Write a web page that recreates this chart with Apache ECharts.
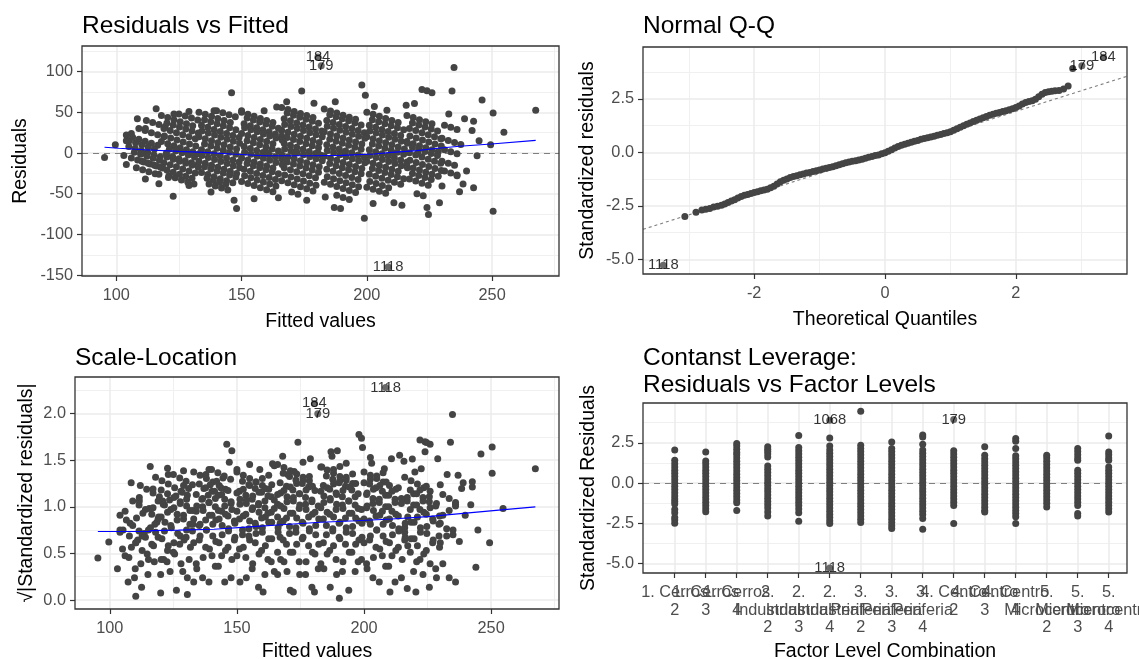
<!DOCTYPE html>
<html><head><meta charset="utf-8">
<script src="https://cdn.jsdelivr.net/npm/echarts@6/dist/echarts.min.js"></script>
<style>html,body{margin:0;padding:0;background:#fff}#c{width:1139px;height:659px}</style>
</head><body><div id="c"></div>
<script>
// ---------------- DATA ----------------
// Panel 1: Residuals vs Fitted  [fitted, residual]
const rvfStreaks = [
[104,22],[106.5,19.5],[109,17],[111.5,14.5],[114,12],[116.5,9.5],
[105,8],[107.5,5.5],[110,3],[112.5,0.5],[115,-2],[117.5,-4.5],
[106,-6],[108.5,-8.5],[111,-11],[113.5,-13.5],[116,-16],[118.5,-18.5],
[109,30],[111.5,27.5],[114,25],[116.5,22.5],[119,20],
[108,-18],[110.5,-20.5],[113,-23],[115.5,-25.5],
[112,40],[114.5,37.5],[117,35],[119.5,32.5],
[118,46],[120.5,43.5],[123,41],[125.5,38.5],[128,36],[130.5,33.5],
[119,30],[121.5,27.5],[124,25],[126.5,22.5],[129,20],[131.5,17.5],
[118,14],[120.5,11.5],[123,9],[125.5,6.5],[128,4],[130.5,1.5],[133,-1],
[120,-2],[122.5,-4.5],[125,-7],[127.5,-9.5],[130,-12],[132.5,-14.5],
[119,-12],[121.5,-14.5],[124,-17],[126.5,-19.5],[129,-22],[131.5,-24.5],
[121,-28],[123.5,-30.5],[126,-33],[128.5,-35.5],[131,-38],
[125,48],[127.5,45.5],[130,43],[132.5,40.5],
[133,50],[135.5,47.5],[138,45],[140.5,42.5],[143,40],[145.5,37.5],
[134,34],[136.5,31.5],[139,29],[141.5,26.5],[144,24],[146.5,21.5],[149,19],
[133,20],[135.5,17.5],[138,15],[140.5,12.5],[143,10],[145.5,7.5],[148,5],
[134,4],[136.5,1.5],[139,-1],[141.5,-3.5],[144,-6],[146.5,-8.5],[149,-11],
[133,-10],[135.5,-12.5],[138,-15],[140.5,-17.5],[143,-20],[145.5,-22.5],[148,-25],
[134,-24],[136.5,-26.5],[139,-29],[141.5,-31.5],[144,-34],[146.5,-36.5],
[137,-38],[139.5,-40.5],[142,-43],[144.5,-45.5],
[140,52],[142.5,49.5],[145,47],[147.5,44.5],
[150,50],[152.5,47.5],[155,45],[157.5,42.5],[160,40],[162.5,37.5],
[151,36],[153.5,33.5],[156,31],[158.5,28.5],[161,26],[163.5,23.5],[166,21],
[150,24],[152.5,21.5],[155,19],[157.5,16.5],[160,14],[162.5,11.5],
[151,8],[153.5,5.5],[156,3],[158.5,0.5],[161,-2],[163.5,-4.5],[166,-7],
[150,-6],[152.5,-8.5],[155,-11],[157.5,-13.5],[160,-16],[162.5,-18.5],
[151,-20],[153.5,-22.5],[156,-25],[158.5,-27.5],[161,-30],[163.5,-32.5],
[150,-35],[152.5,-37.5],[155,-40],[157.5,-42.5],[160,-45],[162.5,-47.5],
[166,56],[168.5,53.5],[171,51],[173.5,48.5],[176,46],[178.5,43.5],
[167,42],[169.5,39.5],[172,37],[174.5,34.5],[177,32],[179.5,29.5],[182,27],
[166,28],[168.5,25.5],[171,23],[173.5,20.5],[176,18],[178.5,15.5],[181,13],
[167,12],[169.5,9.5],[172,7],[174.5,4.5],[177,2],[179.5,-0.5],[182,-3],
[166,-2],[168.5,-4.5],[171,-7],[173.5,-9.5],[176,-12],[178.5,-14.5],[181,-17],
[167,-18],[169.5,-20.5],[172,-23],[174.5,-25.5],[177,-28],[179.5,-30.5],
[166,-34],[168.5,-36.5],[171,-39],[173.5,-41.5],[176,-44],[178.5,-46.5],
[170,-48],[172.5,-50.5],
[183,54],[185.5,51.5],[188,49],[190.5,46.5],[193,44],[195.5,41.5],
[184,40],[186.5,37.5],[189,35],[191.5,32.5],[194,30],[196.5,27.5],[199,25],
[183,26],[185.5,23.5],[188,21],[190.5,18.5],[193,16],[195.5,13.5],[198,11],
[184,10],[186.5,7.5],[189,5],[191.5,2.5],[194,0.3],[196.5,-2.5],[199,-5],
[183,-4],[185.5,-6.5],[188,-9],[190.5,-11.5],[193,-14],[195.5,-16.5],[198,-19],
[184,-20],[186.5,-22.5],[189,-25],[191.5,-27.5],[194,-30],[196.5,-32.5],
[183,-36],[185.5,-38.5],[188,-41],[190.5,-43.5],[193,-46],[195.5,-48.5],
[188,-52],[190.5,-54.5],[193,-57],
[200,50],[202.5,47.5],[205,45],[207.5,42.5],[210,40],[212.5,37.5],
[201,34],[203.5,31.5],[206,29],[208.5,26.5],[211,24],[213.5,21.5],
[200,20],[202.5,17.5],[205,15],[207.5,12.5],[210,10],[212.5,7.5],[215,5],
[201,4],[203.5,1.5],[206,-1],[208.5,-3.5],[211,-6],[213.5,-8.5],[216,-11],
[200,-10],[202.5,-12.5],[205,-15],[207.5,-17.5],[210,-20],[212.5,-22.5],
[201,-26],[203.5,-28.5],[206,-31],[208.5,-33.5],[211,-36],[213.5,-38.5],
[200,-42],[202.5,-44.5],[205,-47],[207.5,-49.5],
[216,46],[218.5,43.5],[221,41],[223.5,38.5],[226,36],
[217,30],[219.5,27.5],[222,25],[224.5,22.5],[227,20],[229.5,17.5],
[216,14],[218.5,11.5],[221,9],[223.5,6.5],[226,4],[228.5,1.5],
[217,0.4],[219.5,-2.5],[222,-5],[224.5,-7.5],[227,-10],[229.5,-12.5],
[216,-16],[218.5,-18.5],[221,-21],[223.5,-23.5],[226,-26],[228.5,-28.5],
[217,-32],[219.5,-34.5],[222,-37],[224.5,-39.5],
[220,-50],[222.5,-52.5],
[231,34],[233.5,31.5],[236,29],
[230,18],[232.5,15.5],[235,13],[237.5,10.5],
[231,4],[233.5,1.5],[236,-1],
[230,-10],[232.5,-12.5],[235,-15],
[231,-22],[233.5,-24.5],[236,-27]
];
const rvfStreaks2 = [
[105.2,15],[107.7,12.5],[110.2,10],[112.7,7.5],[115.2,5],
[107.2,1],[109.7,-1.5],[112.2,-4],[114.7,-6.5],[117.2,-9],
[110.2,-10],[112.7,-12.5],[115.2,-15],[117.7,-17.5],
[120.2,37],[122.7,34.5],[125.2,32],[127.7,29.5],[130.2,27],[132.7,24.5],
[119.2,21],[121.7,18.5],[124.2,16],[126.7,13.5],[129.2,11],[131.7,8.5],
[121.2,5],[123.7,2.5],[126.2,0.3],[128.7,-2.5],[131.2,-5],
[120.2,-5],[122.7,-7.5],[125.2,-10],[127.7,-12.5],[130.2,-15],[132.7,-17.5],
[120.2,-21],[122.7,-23.5],[125.2,-26],[127.7,-28.5],[130.2,-31],
[135.2,41],[137.7,38.5],[140.2,36],[142.7,33.5],[145.2,31],[147.7,28.5],
[134.2,27],[136.7,24.5],[139.2,22],[141.7,19.5],[144.2,17],[146.7,14.5],[149.2,12],
[135.2,11],[137.7,8.5],[140.2,6],[142.7,3.5],[145.2,1],[147.7,-1.5],
[134.2,-3],[136.7,-5.5],[139.2,-8],[141.7,-10.5],[144.2,-13],[146.7,-15.5],[149.2,-18],
[135.2,-17],[137.7,-19.5],[140.2,-22],[142.7,-24.5],[145.2,-27],[147.7,-29.5],
[136.2,-31],[138.7,-33.5],[141.2,-36],[143.7,-38.5],
[152.2,43],[154.7,40.5],[157.2,38],[159.7,35.5],[162.2,33],[164.7,30.5],
[151.2,31],[153.7,28.5],[156.2,26],[158.7,23.5],[161.2,21],[163.7,18.5],[166.2,16],
[152.2,15],[154.7,12.5],[157.2,10],[159.7,7.5],[162.2,5],[164.7,2.5],
[151.2,1],[153.7,-1.5],[156.2,-4],[158.7,-6.5],[161.2,-9],[163.7,-11.5],[166.2,-14],
[152.2,-13],[154.7,-15.5],[157.2,-18],[159.7,-20.5],[162.2,-23],[164.7,-25.5],
[151.2,-28],[153.7,-30.5],[156.2,-33],[158.7,-35.5],[161.2,-38],[163.7,-40.5],
[168.2,49],[170.7,46.5],[173.2,44],[175.7,41.5],[178.2,39],[180.7,36.5],
[167.2,35],[169.7,32.5],[172.2,30],[174.7,27.5],[177.2,25],[179.7,22.5],[182.2,20],
[168.2,19],[170.7,16.5],[173.2,14],[175.7,11.5],[178.2,9],[180.7,6.5],
[167.2,5],[169.7,2.5],[172.2,0.2],[174.7,-2],[177.2,-4.5],[179.7,-7],[182.2,-9.5],
[168.2,-11],[170.7,-13.5],[173.2,-16],[175.7,-18.5],[178.2,-21],[180.7,-23.5],
[167.2,-27],[169.7,-29.5],[172.2,-32],[174.7,-34.5],[177.2,-37],[179.7,-39.5],
[185.2,47],[187.7,44.5],[190.2,42],[192.7,39.5],[195.2,37],[197.7,34.5],
[184.2,33],[186.7,30.5],[189.2,28],[191.7,25.5],[194.2,23],[196.7,20.5],[199.2,18],
[185.2,17],[187.7,14.5],[190.2,12],[192.7,9.5],[195.2,7],[197.7,4.5],
[184.2,3],[186.7,0.5],[189.2,-2],[191.7,-4.5],[194.2,-7],[196.7,-9.5],[199.2,-12],
[185.2,-13],[187.7,-15.5],[190.2,-18],[192.7,-20.5],[195.2,-23],[197.7,-25.5],
[184.2,-29],[186.7,-31.5],[189.2,-34],[191.7,-36.5],[194.2,-39],[196.7,-41.5],
[202.2,41],[204.7,38.5],[207.2,36],[209.7,33.5],[212.2,31],[214.7,28.5],
[201.2,27],[203.7,24.5],[206.2,22],[208.7,19.5],[211.2,17],[213.7,14.5],[216.2,12],
[202.2,11],[204.7,8.5],[207.2,6],[209.7,3.5],[212.2,1],[214.7,-1.5],
[201.2,-3],[203.7,-5.5],[206.2,-8],[208.7,-10.5],[211.2,-13],[213.7,-15.5],[216.2,-18],
[202.2,-19],[204.7,-21.5],[207.2,-24],[209.7,-26.5],[212.2,-29],[214.7,-31.5],
[201.2,-35],[203.7,-37.5],[206.2,-40],[208.7,-42.5],
[218.2,37],[220.7,34.5],[223.2,32],[225.7,29.5],[228.2,27],
[217.2,21],[219.7,18.5],[222.2,16],[224.7,13.5],[227.2,11],[229.7,8.5],
[218.2,7],[220.7,4.5],[223.2,2],[225.7,-0.5],[228.2,-3],
[217.2,-9],[219.7,-11.5],[222.2,-14],[224.7,-16.5],[227.2,-19],[229.7,-21.5],
[218.2,-25],[220.7,-27.5],[223.2,-30],[225.7,-32.5]
];
const rvfOutliers = [[95.3,-5.4],[99.6,10.3],[103,-3],[104,-14],[104,15],[106,24],[108.4,42],[111.6,-32],[111.6,30],[115.9,54.5],[117,-26],[117,-37.6],[120.8,-30],[122.7,-53],[123,48],[129,51],[129,-40],[137.8,-48],[139,52],[146,74],[147,-58],[148,-68],[150,52],[155,-56],[159,52],[164,56.6],[164.7,-55],[168,63],[174,76],[176,-58],[178.9,61],[183.4,-54],[187,-67],[187.4,63],[189.5,-68],[198,83.5],[199,-80],[199.4,71],[202.5,-62],[203,57],[208,52.5],[210.8,-61],[214,-64],[215.7,58.7],[219,60.7],[222,78],[224,76.4],[226,74],[224,-67],[224.6,-75.6],[229,-61],[230,-40.5],[232.7,48],[234,76],[234.8,105],[236,-28],[237,-47.5],[238.4,-38],[239,42],[239.8,-22],[242,27.7],[242.6,39],[242.6,-42.6],[244,-3.3],[244.8,15],[246,65],[249.4,10],[250.4,49],[250.4,-71.5],[254.7,25.6],[267.4,52.5],[110.2,0.05],[120,0.15],[130.5,-0.1],[160.3,0.2],[171,0.3],[180.5,0.2],[190.3,0.01],[210.2,0.2],[220.4,-0.2]];
const rvfLabeled = [[180.5,118,'184'],[181.8,107,'179'],[208.5,-140,'1118']];
const rvfLoessX = [95.3,101,111,125,135,146,159,167.6,179,190,203,210,220,228.5,237,249.7,267.4];
const rvfLoessY = [7,5.8,4.1,2,0.8,-1.2,-3.3,-3.4,-3.3,-2.9,-1.2,0.8,2.9,5.8,8.3,11,15.5];

// Panel 2: Normal Q-Q
const qqTheo = [-3.06,-2.89,-2.80,-2.74,-2.68,-2.62,-2.56,-2.50,-2.45,-2.40,-2.35,-2.30,-2.25,-2.20,-2.15,-2.10,-2.05,-2.00,-1.95,-1.90,-1.85,-1.80,-1.75,-1.70,-1.65,-1.60,-1.55,-1.50,-1.45,-1.40,-1.35,-1.30,-1.25,-1.20,-1.15,-1.10,-1.05,-1.00,-0.95,-0.90,-0.85,-0.80,-0.75,-0.70,-0.65,-0.60,-0.55,-0.50,-0.45,-0.40,-0.35,-0.30,-0.25,-0.20,-0.15,-0.10,-0.05,0.00,0.05,0.10,0.15,0.20,0.25,0.30,0.35,0.40,0.45,0.50,0.55,0.60,0.65,0.70,0.75,0.80,0.85,0.90,0.95,1.00,1.05,1.10,1.15,1.20,1.25,1.30,1.35,1.40,1.45,1.50,1.55,1.60,1.65,1.70,1.75,1.80,1.85,1.90,1.95,2.00,2.05,2.10,2.15,2.20,2.25,2.30,2.35,2.40,2.45,2.50,2.55,2.60,2.66,2.73,2.80,2.87];
const qqStd = [-3.00,-2.80,-2.70,-2.66,-2.62,-2.56,-2.52,-2.47,-2.42,-2.34,-2.28,-2.22,-2.14,-2.06,-2.01,-1.97,-1.92,-1.88,-1.84,-1.80,-1.76,-1.72,-1.66,-1.58,-1.48,-1.38,-1.30,-1.24,-1.18,-1.13,-1.09,-1.05,-1.01,-0.97,-0.94,-0.90,-0.86,-0.82,-0.78,-0.74,-0.71,-0.67,-0.63,-0.58,-0.53,-0.49,-0.45,-0.42,-0.39,-0.36,-0.32,-0.27,-0.23,-0.19,-0.15,-0.12,-0.07,-0.02,0.05,0.12,0.20,0.28,0.33,0.38,0.43,0.47,0.52,0.56,0.61,0.65,0.69,0.72,0.76,0.80,0.84,0.88,0.92,0.97,1.03,1.10,1.17,1.25,1.32,1.38,1.44,1.50,1.56,1.62,1.68,1.74,1.78,1.83,1.87,1.91,1.95,1.99,2.04,2.10,2.17,2.26,2.33,2.38,2.42,2.48,2.60,2.72,2.80,2.84,2.86,2.88,2.90,2.96,3.10,3.92];
const qqLabeled = [[-3.39,-5.28,'1118'],[3.01,4.05,'179'],[3.34,4.45,'184']];
const qqLineX = [-3.7,3.7];
const qqLineY = [-3.60,3.56];

// Panel 3: Scale-Location  [fitted, sqrt|std resid|]
const slStreaks = [
[104,0.911],[106.5,0.858],[109,0.801],[111.5,0.740],[114,0.673],[116.5,0.599],
[105,0.549],[107.5,0.456],[110,0.336],[112.5,0.137],[115,0.275],[117.5,0.412],
[106,0.476],[108.5,0.566],[111,0.644],[113.5,0.714],[116,0.777],[118.5,0.836],
[109,1.064],[111.5,1.019],[114,0.971],[116.5,0.921],[119,0.869],
[108,0.824],[110.5,0.880],[113,0.932],[115.5,0.981],
[112,1.229],[114.5,1.190],[117,1.149],[119.5,1.107],
[118,1.318],[120.5,1.281],[123,1.244],[125.5,1.205],[128,1.166],[130.5,1.124],
[119,1.064],[121.5,1.019],[124,0.971],[126.5,0.921],[129,0.869],[131.5,0.813],
[118,0.727],[120.5,0.659],[123,0.583],[125.5,0.495],[128,0.389],[130.5,0.238],[133,0.194],
[120,0.275],[122.5,0.412],[125,0.514],[127.5,0.599],[130,0.673],[132.5,0.740],
[119,0.673],[121.5,0.740],[124,0.801],[126.5,0.858],[129,0.911],[131.5,0.962],
[121,1.028],[123.5,1.073],[126,1.116],[128.5,1.157],[131,1.197],
[125,1.346],[127.5,1.310],[130,1.274],[132.5,1.236],
[133,1.374],[135.5,1.339],[138,1.303],[140.5,1.266],[143,1.229],[145.5,1.190],
[134,1.133],[136.5,1.090],[139,1.046],[141.5,1.0],[144,0.952],[146.5,0.901],[149,0.847],
[133,0.869],[135.5,0.813],[138,0.752],[140.5,0.687],[143,0.614],[145.5,0.532],[148,0.434],
[134,0.389],[136.5,0.238],[139,0.194],[141.5,0.363],[144,0.476],[146.5,0.566],[149,0.644],
[133,0.614],[135.5,0.687],[138,0.752],[140.5,0.813],[143,0.869],[145.5,0.921],[148,0.971],
[134,0.952],[136.5,1.0],[139,1.046],[141.5,1.090],[144,1.133],[146.5,1.174],
[137,1.197],[139.5,1.236],[142,1.274],[144.5,1.310],
[140,1.401],[142.5,1.367],[145,1.332],[147.5,1.296],
[150,1.374],[152.5,1.339],[155,1.303],[157.5,1.266],[160,1.229],[162.5,1.190],
[151,1.166],[153.5,1.124],[156,1.082],[158.5,1.037],[161,0.991],[163.5,0.942],[166,0.890],
[150,0.952],[152.5,0.901],[155,0.847],[157.5,0.789],[160,0.727],[162.5,0.659],
[151,0.549],[153.5,0.456],[156,0.336],[158.5,0.137],[161,0.275],[163.5,0.412],[166,0.514],
[150,0.476],[152.5,0.566],[155,0.644],[157.5,0.714],[160,0.777],[162.5,0.836],
[151,0.869],[153.5,0.921],[156,0.971],[158.5,1.019],[161,1.064],[163.5,1.107],
[150,1.149],[152.5,1.190],[155,1.229],[157.5,1.266],[160,1.303],[162.5,1.339],
[166,1.454],[168.5,1.421],[171,1.387],[173.5,1.353],[176,1.318],[178.5,1.281],
[167,1.259],[169.5,1.221],[172,1.182],[174.5,1.141],[177,1.099],[179.5,1.055],[182,1.009],
[166,1.028],[168.5,0.981],[171,0.932],[173.5,0.880],[176,0.824],[178.5,0.765],[181,0.700],
[167,0.673],[169.5,0.599],[172,0.514],[174.5,0.412],[177,0.275],[179.5,0.137],[182,0.336],
[166,0.275],[168.5,0.412],[171,0.514],[173.5,0.599],[176,0.673],[178.5,0.740],[181,0.801],
[167,0.824],[169.5,0.880],[172,0.932],[174.5,0.981],[177,1.028],[179.5,1.073],
[166,1.133],[168.5,1.174],[171,1.213],[173.5,1.251],[176,1.289],[178.5,1.325],
[170,1.346],[172.5,1.380],
[183,1.427],[185.5,1.394],[188,1.360],[190.5,1.325],[193,1.289],[195.5,1.251],
[184,1.229],[186.5,1.190],[189,1.149],[191.5,1.107],[194,1.064],[196.5,1.019],[199,0.971],
[183,0.991],[185.5,0.942],[188,0.890],[190.5,0.836],[193,0.777],[195.5,0.714],[198,0.644],
[184,0.614],[186.5,0.532],[189,0.434],[191.5,0.307],[194,0.106],[196.5,0.307],[199,0.434],
[183,0.389],[185.5,0.495],[188,0.583],[190.5,0.659],[193,0.727],[195.5,0.789],[198,0.847],
[184,0.869],[186.5,0.921],[189,0.971],[191.5,1.019],[194,1.064],[196.5,1.107],
[183,1.166],[185.5,1.205],[188,1.244],[190.5,1.281],[193,1.318],[195.5,1.353],
[188,1.401],[190.5,1.434],[193,1.467],
[200,1.374],[202.5,1.339],[205,1.303],[207.5,1.266],[210,1.229],[212.5,1.190],
[201,1.133],[203.5,1.090],[206,1.046],[208.5,1.0],[211,0.952],[213.5,0.901],
[200,0.869],[202.5,0.813],[205,0.752],[207.5,0.687],[210,0.614],[212.5,0.532],[215,0.434],
[201,0.389],[203.5,0.238],[206,0.194],[208.5,0.363],[211,0.476],[213.5,0.566],[216,0.644],
[200,0.614],[202.5,0.687],[205,0.752],[207.5,0.813],[210,0.869],[212.5,0.921],
[201,0.991],[203.5,1.037],[206,1.082],[208.5,1.124],[211,1.166],[213.5,1.205],
[200,1.259],[202.5,1.296],[205,1.332],[207.5,1.367],
[216,1.318],[218.5,1.281],[221,1.244],[223.5,1.205],[226,1.166],
[217,1.064],[219.5,1.019],[222,0.971],[224.5,0.921],[227,0.869],[229.5,0.813],
[216,0.727],[218.5,0.659],[221,0.583],[223.5,0.495],[226,0.389],[228.5,0.238],
[217,0.123],[219.5,0.307],[222,0.434],[224.5,0.532],[227,0.614],[229.5,0.687],
[216,0.777],[218.5,0.836],[221,0.890],[223.5,0.942],[226,0.991],[228.5,1.037],
[217,1.099],[219.5,1.141],[222,1.182],[224.5,1.221],
[220,1.374],[222.5,1.408],
[231,1.133],[233.5,1.090],[236,1.046],
[230,0.824],[232.5,0.765],[235,0.700],[237.5,0.629],
[231,0.389],[233.5,0.238],[236,0.194],
[230,0.614],[232.5,0.687],[235,0.752],
[231,0.911],[233.5,0.962],[236,1.009]
];
const slStreaks2 = [
[105.2,0.752],[107.7,0.687],[110.2,0.614],[112.7,0.532],[115.2,0.434],
[107.2,0.194],[109.7,0.238],[112.2,0.389],[114.7,0.495],[117.2,0.583],
[110.2,0.614],[112.7,0.687],[115.2,0.752],[117.7,0.813],
[120.2,1.182],[122.7,1.141],[125.2,1.099],[127.7,1.055],[130.2,1.009],[132.7,0.962],
[119.2,0.890],[121.7,0.836],[124.2,0.777],[126.7,0.714],[129.2,0.644],[131.7,0.566],
[121.2,0.434],[123.7,0.307],[126.2,0.106],[128.7,0.307],[131.2,0.434],
[120.2,0.434],[122.7,0.532],[125.2,0.614],[127.7,0.687],[130.2,0.752],[132.7,0.813],
[120.2,0.890],[122.7,0.942],[125.2,0.991],[127.7,1.037],[130.2,1.082],
[135.2,1.244],[137.7,1.205],[140.2,1.166],[142.7,1.124],[145.2,1.082],[147.7,1.037],
[134.2,1.009],[136.7,0.962],[139.2,0.911],[141.7,0.858],[144.2,0.801],[146.7,0.740],[149.2,0.673],
[135.2,0.644],[137.7,0.566],[140.2,0.476],[142.7,0.363],[145.2,0.194],[147.7,0.238],
[134.2,0.336],[136.7,0.456],[139.2,0.549],[141.7,0.629],[144.2,0.700],[146.7,0.765],[149.2,0.824],
[135.2,0.801],[137.7,0.858],[140.2,0.911],[142.7,0.962],[145.2,1.009],[147.7,1.055],
[136.2,1.082],[138.7,1.124],[141.2,1.166],[143.7,1.205],
[152.2,1.274],[154.7,1.236],[157.2,1.197],[159.7,1.157],[162.2,1.116],[164.7,1.073],
[151.2,1.082],[153.7,1.037],[156.2,0.991],[158.7,0.942],[161.2,0.890],[163.7,0.836],[166.2,0.777],
[152.2,0.752],[154.7,0.687],[157.2,0.614],[159.7,0.532],[162.2,0.434],[164.7,0.307],
[151.2,0.194],[153.7,0.238],[156.2,0.389],[158.7,0.495],[161.2,0.583],[163.7,0.659],[166.2,0.727],
[152.2,0.700],[154.7,0.765],[157.2,0.824],[159.7,0.880],[162.2,0.932],[164.7,0.981],
[151.2,1.028],[153.7,1.073],[156.2,1.116],[158.7,1.157],[161.2,1.197],[163.7,1.236],
[168.2,1.360],[170.7,1.325],[173.2,1.289],[175.7,1.251],[178.2,1.213],[180.7,1.174],
[167.2,1.149],[169.7,1.107],[172.2,1.064],[174.7,1.019],[177.2,0.971],[179.7,0.921],[182.2,0.869],
[168.2,0.847],[170.7,0.789],[173.2,0.727],[175.7,0.659],[178.2,0.583],[180.7,0.495],
[167.2,0.434],[169.7,0.307],[172.2,0.087],[174.7,0.275],[177.2,0.412],[179.7,0.514],[182.2,0.599],
[168.2,0.644],[170.7,0.714],[173.2,0.777],[175.7,0.836],[178.2,0.890],[180.7,0.942],
[167.2,1.009],[169.7,1.055],[172.2,1.099],[174.7,1.141],[177.2,1.182],[179.7,1.221],
[185.2,1.332],[187.7,1.296],[190.2,1.259],[192.7,1.221],[195.2,1.182],[197.7,1.141],
[184.2,1.116],[186.7,1.073],[189.2,1.028],[191.7,0.981],[194.2,0.932],[196.7,0.880],[199.2,0.824],
[185.2,0.801],[187.7,0.740],[190.2,0.673],[192.7,0.599],[195.2,0.514],[197.7,0.412],
[184.2,0.336],[186.7,0.137],[189.2,0.275],[191.7,0.412],[194.2,0.514],[196.7,0.599],[199.2,0.673],
[185.2,0.700],[187.7,0.765],[190.2,0.824],[192.7,0.880],[195.2,0.932],[197.7,0.981],
[184.2,1.046],[186.7,1.090],[189.2,1.133],[191.7,1.174],[194.2,1.213],[196.7,1.251],
[202.2,1.244],[204.7,1.205],[207.2,1.166],[209.7,1.124],[212.2,1.082],[214.7,1.037],
[201.2,1.009],[203.7,0.962],[206.2,0.911],[208.7,0.858],[211.2,0.801],[213.7,0.740],[216.2,0.673],
[202.2,0.644],[204.7,0.566],[207.2,0.476],[209.7,0.363],[212.2,0.194],[214.7,0.238],
[201.2,0.336],[203.7,0.456],[206.2,0.549],[208.7,0.629],[211.2,0.700],[213.7,0.765],[216.2,0.824],
[202.2,0.847],[204.7,0.901],[207.2,0.952],[209.7,1.0],[212.2,1.046],[214.7,1.090],
[201.2,1.149],[203.7,1.190],[206.2,1.229],[208.7,1.266],
[218.2,1.182],[220.7,1.141],[223.2,1.099],[225.7,1.055],[228.2,1.009],
[217.2,0.890],[219.7,0.836],[222.2,0.777],[224.7,0.714],[227.2,0.644],[229.7,0.566],
[218.2,0.514],[220.7,0.412],[223.2,0.275],[225.7,0.137],[228.2,0.336],
[217.2,0.583],[219.7,0.659],[222.2,0.727],[224.7,0.789],[227.2,0.847],[229.7,0.901],
[218.2,0.971],[220.7,1.019],[223.2,1.064],[225.7,1.107]
];
const slOutliers = [[95.3,0.451],[99.6,0.623],[103,0.336],[104,0.727],[104,0.752],[106,0.952],[108.4,1.259],[111.6,1.099],[111.6,1.064],[115.9,1.434],[117,0.991],[117,1.191],[120.8,1.064],[122.7,1.414],[123,1.346],[129,1.387],[129,1.229],[137.8,1.346],[139,1.401],[146,1.671],[147,1.479],[148,1.602],[150,1.401],[155,1.454],[159,1.401],[164,1.461],[164.7,1.441],[168,1.542],[174,1.694],[176,1.479],[178.9,1.517],[183.4,1.427],[187,1.590],[187.4,1.542],[189.5,1.602],[198,1.775],[199,1.737],[199.4,1.637],[202.5,1.530],[203,1.467],[208,1.408],[210.8,1.517],[214,1.554],[215.7,1.488],[219,1.514],[222,1.716],[224,1.698],[226,1.671],[224,1.590],[224.6,1.689],[229,1.517],[230,1.236],[232.7,1.346],[234,1.694],[234.8,1.991],[236,1.028],[237,1.339],[238.4,1.197],[239,1.259],[239.8,0.911],[242,1.022],[242.6,1.213],[242.6,1.268],[244,0.353],[244.8,0.752],[246,1.566],[249.4,0.614],[250.4,1.360],[250.4,1.643],[254.7,0.983],[267.4,1.408],[110.2,0.04],[120,0.075],[130.5,0.06],[160.3,0.087],[171,0.106],[180.5,0.087],[190.3,0.02],[210.2,0.087],[220.4,0.087]];
const slLabeled = [[180.5,2.11,'184'],[181.8,2.0,'179'],[208.5,2.28,'1118']];
const slLoessX = [95.3,105,115.5,116.5,127,141,155,169,183,197,211,225,239,253,267.4];
const slLoessY = [0.735,0.735,0.737,0.745,0.75,0.76,0.785,0.81,0.835,0.85,0.87,0.895,0.93,0.965,1.0];

// Panel 4: Constant leverage, residuals by factor level combination
const flLabels = ['1. Cerros\n2','1. Cerros\n3','1. Cerros\n4','2.\nIndustrial\n2','2.\nIndustrial\n3','2.\nIndustrial\n4','3.\nPeriferia\n2','3.\nPeriferia\n3','3.\nPeriferia\n4','4. Centro\n2','4. Centro\n3','4. Centro\n4','5.\nMicrocentro\n2','5.\nMicrocentro\n3','5.\nMicrocentro\n4'];
const flStdRes = [
[2.05,1.41,1.2,1.0,0.8,0.6,0.4,0.2,0,-0.2,-0.4,-0.6,-0.8,-1.0,-1.15,-1.3,-1.65,-1.85,-2.15,-2.3,-2.5],
[1.93,1.37,1.2,1.0,0.8,0.6,0.4,0.2,0,-0.2,-0.4,-0.6,-0.8,-1.0,-1.2,-1.4,-1.6,-1.78],
[2.45,2.3,2.1,1.9,1.75,1.55,1.35,1.15,0.95,0.75,0.55,0.35,0.15,-0.05,-0.25,-0.45,-0.65,-0.85,-1.05,-1.22,-1.7],
[2.25,2.1,1.95,1.8,1.62,1.05,0.85,0.65,0.45,0.25,0.05,-0.15,-0.35,-0.55,-0.75,-0.95,-1.15,-1.35,-1.55,-1.8,-2.05],
[2.95,2.2,2.0,1.8,1.6,1.4,1.2,1.0,0.8,0.6,0.4,0.2,0,-0.2,-0.4,-0.6,-0.8,-1.0,-1.2,-1.4,-1.62,-1.85,-2.38],
[2.8,2.3,2.05,1.85,1.65,1.45,1.25,1.05,0.85,0.65,0.45,0.25,0.05,-0.15,-0.35,-0.55,-0.75,-0.95,-1.15,-1.35,-1.55,-1.75,-1.95,-2.15,-2.35,-2.52],
[4.45,2.35,2.15,1.95,1.75,1.55,1.35,1.15,0.95,0.75,0.55,0.35,0.15,-0.05,-0.25,-0.45,-0.65,-0.85,-1.05,-1.25,-1.45,-1.65,-1.85,-2.05,-2.25,-2.45],
[2.55,2.15,1.95,1.75,1.55,1.35,1.15,0.95,0.75,0.55,0.35,0.15,-0.05,-0.25,-0.45,-0.65,-0.85,-1.05,-1.25,-1.45,-1.65,-1.85,-2.05,-2.25,-2.45,-2.65,-2.82],
[2.98,2.86,2.4,2.05,1.85,1.65,1.45,1.25,1.05,0.85,0.65,0.45,0.25,0.05,-0.15,-0.35,-0.55,-0.75,-0.95,-1.15,-1.35,-1.55,-1.75,-1.95,-2.2,-2.88],
[2.0,1.8,1.6,1.4,1.2,1.0,0.8,0.6,0.4,0.2,0,-0.2,-0.4,-0.6,-0.8,-1.0,-1.2,-1.4,-2.52],
[2.25,1.72,1.5,1.3,1.1,0.9,0.7,0.5,0.3,0.1,-0.1,-0.3,-0.5,-0.7,-0.9,-1.1,-1.3,-1.5,-1.7,-1.8],
[2.76,2.6,2.14,1.7,1.5,1.3,1.1,0.9,0.7,0.5,0.3,0.1,-0.1,-0.3,-0.5,-0.7,-0.9,-1.1,-1.3,-1.5,-1.7,-1.9,-2.1,-2.52],
[1.72,1.55,1.35,1.15,0.95,0.75,0.55,0.35,0.15,-0.05,-0.25,-0.45,-0.65,-0.85,-1.05,-1.25,-1.49],
[2.14,1.95,1.75,1.55,1.41,0.79,0.6,0.4,0.2,0,-0.2,-0.4,-0.6,-0.8,-1.0,-1.2,-1.39,-1.9,-2.05],
[2.92,1.93,1.75,1.55,1.41,0.99,0.8,0.6,0.4,0.2,0,-0.2,-0.4,-0.6,-0.8,-1.0,-1.2,-1.4,-1.6,-1.8]
];
const flLabeled = [[6,3.9,'1068'],[10,3.94,'179'],[6,-5.28,'1118']];

// Tick values
const fitTicks = [100,150,200,250];
const fitMinor = [125,175,225,275];
const rvfYTicks = [-150,-100,-50,0,50,100];
const rvfYMinor = [-125,-75,-25,25,75,125];
const qqXTicks = [-2,0,2];
const qqXMinor = [-3,-1,1,3];
const stdYTicks = [-5,-2.5,0,2.5];
const stdYMinor = [-3.75,-1.25,1.25,3.75];
const slYTicks = [0,0.5,1,1.5,2];
const slYMinor = [0.25,0.75,1.25,1.75,2.25];
const flXTicks = [1,2,3,4,5,6,7,8,9,10,11,12,13,14,15];

// ---------------- LAYOUT / STYLE ----------------
const FONT = "'Liberation Sans', Arial, Helvetica, sans-serif";
const PT = 7;
const grids = [
  {left:82, top:46, width:477, height:230},
  {left:643, top:47, width:484, height:227},
  {left:75, top:377, width:484, height:232},
  {left:643, top:403, width:484, height:170}
];
const ranges = [
  {x:[86.3,276.7], y:[-151,131.4]},
  {x:[-3.7,3.7], y:[-5.69,4.93]},
  {x:[86.3,276.7], y:[-0.096,2.393]},
  {x:[-0.024,15.59], y:[-5.59,4.97]}
];

function gridLines(gi, xs, ys, color, width) {
  const r = ranges[gi], data = [];
  xs.forEach(v => data.push({coords:[[v, r.y[0]],[v, r.y[1]]]}));
  ys.forEach(v => data.push({coords:[[r.x[0], v],[r.x[1], v]]}));
  return {type:'lines', coordinateSystem:'cartesian2d', xAxisIndex:gi, yAxisIndex:gi, silent:true, z:0,
    data, lineStyle:{color, width, opacity:1, type:'solid'}};
}
function refLine(gi, xs, ys, dash) {
  return {type:'lines', coordinateSystem:'cartesian2d', xAxisIndex:gi, yAxisIndex:gi, silent:true, z:1,
    data:[{coords:[[xs[0],ys[0]],[xs[1],ys[1]]]}],
    lineStyle:{color:'#7F7F7F', width:1.1, opacity:1, type:dash}};
}
function scatter(gi, data) {
  return {type:'scatter', xAxisIndex:gi, yAxisIndex:gi, data, symbolSize:PT, z:2, silent:true,
    itemStyle:{color:'#444444', opacity:1}};
}
function labeled(gi, arr) {
  return {type:'scatter', xAxisIndex:gi, yAxisIndex:gi, z:4, silent:true, symbolSize:PT,
    itemStyle:{color:'#444444'},
    data: arr.map(a => ({value:[a[0],a[1]], name:a[2]})),
    label:{show:true, formatter:'{b}', position:'inside', color:'#000', fontSize:14.8, fontFamily:FONT}};
}
function smooth(gi, xs, ys) {
  return {type:'line', xAxisIndex:gi, yAxisIndex:gi, data: xs.map((x,i)=>[x, ys[i]]), showSymbol:false,
    symbol:'none', z:3, silent:true, lineStyle:{color:'#0000FF', width:1.1}};
}
function axis(gi, dim, ticks, name, gap, fmt, labelTicks, margin) {
  const r = ranges[gi][dim];
  return {gridIndex:gi, type:'value', min:r[0], max:r[1],
    position: dim==='x' ? 'bottom' : 'left', offset:0,
    axisLine:{show:false, onZero:false},
    splitLine:{show:false},
    axisTick:{show:ticks.length>0, length:5, customValues:ticks.length ? ticks : undefined, lineStyle:{color:'#333333', width:1.2}},
    axisLabel:{customValues:labelTicks || ticks, color:'#4D4D4D', fontSize:16.3, fontFamily:FONT,
      margin: margin || (dim==='x' ? 11 : 9),
      showMinLabel:true, showMaxLabel:true, hideOverlap:false,
      lineHeight: dim==='x' ? 17.5 : undefined, formatter: fmt},
    name, nameLocation:'middle', nameGap:gap,
    nameTextStyle:{fontSize:19.5, color:'#000', fontFamily:FONT}};
}
const f1 = v => v.toFixed(1);
const fInt = v => String(Math.round(v));
const fFl = v => flLabels[Math.round(v)-1];
// the 15 overlapping factor labels are spread over three label layers so none gets auto-hidden
const flLayer = k => flXTicks.filter((t, i) => i % 3 === k);

const series = [];
// Panel 1
series.push(gridLines(0, fitMinor, rvfYMinor, '#F0F0F0', 1));
series.push(gridLines(0, fitTicks, rvfYTicks, '#EBEBEB', 1.5));
series.push(refLine(0, ranges[0].x, [0,0], [6,5]));
series.push(scatter(0, rvfStreaks.concat(rvfStreaks2, rvfOutliers)));
series.push(smooth(0, rvfLoessX, rvfLoessY));
series.push(labeled(0, rvfLabeled));
// Panel 2
series.push(gridLines(1, qqXMinor, stdYMinor, '#F0F0F0', 1));
series.push(gridLines(1, qqXTicks, stdYTicks, '#EBEBEB', 1.5));
series.push(refLine(1, qqLineX, qqLineY, [3,3]));
series.push(scatter(1, qqTheo.map((x,i)=>[x, qqStd[i]])));
series.push(labeled(1, qqLabeled));
// Panel 3
series.push(gridLines(2, fitMinor, slYMinor, '#F0F0F0', 1));
series.push(gridLines(2, fitTicks, slYTicks, '#EBEBEB', 1.5));
series.push(scatter(2, slStreaks.concat(slStreaks2, slOutliers)));
series.push(smooth(2, slLoessX, slLoessY));
series.push(labeled(2, slLabeled));
// Panel 4
series.push(gridLines(3, [], stdYMinor, '#F0F0F0', 1));
series.push(gridLines(3, flXTicks, stdYTicks, '#EBEBEB', 1.5));
series.push(refLine(3, ranges[3].x, [0,0], [6,5]));
const flPts = [];
flStdRes.forEach((col, i) => col.forEach(v => flPts.push([i+1, v])));
series.push(scatter(3, flPts));
series.push(labeled(3, flLabeled));

const titleStyle = {fontSize:24.5, fontWeight:'normal', color:'#000', fontFamily:FONT};
const option = {
  animation:false,
  backgroundColor:'#ffffff',
  title:[
    {text:'Residuals vs Fitted', left:82, top:14, padding:0, textStyle:titleStyle},
    {text:'Normal Q-Q', left:643, top:14, padding:0, textStyle:titleStyle},
    {text:'Scale-Location', left:75, top:346, padding:0, textStyle:titleStyle},
    {text:'Contanst Leverage:\nResiduals vs Factor Levels', left:643, top:345, padding:0,
      textStyle:Object.assign({}, titleStyle, {lineHeight:26.7})}
  ],
  grid: grids.map(g => Object.assign({show:true, z:10, backgroundColor:'transparent', borderColor:'#333333', borderWidth:1.3,
    containLabel:false, outerBoundsMode:'none'}, g)),
  xAxis:[
    axis(0,'x',fitTicks,'Fitted values',36,fInt),
    axis(1,'x',qqXTicks,'Theoretical Quantiles',36,fInt),
    axis(2,'x',fitTicks,'Fitted values',33,fInt),
    axis(3,'x',flXTicks,'Factor Level Combination',69,fFl,flLayer(0),11),
    axis(3,'x',[],'',0,fFl,flLayer(1),11),
    axis(3,'x',[],'',0,fFl,flLayer(2),11)
  ],
  yAxis:[
    axis(0,'y',rvfYTicks,'Residuals',51,fInt),
    axis(1,'y',stdYTicks,'Standardized residuals',45,f1),
    axis(2,'y',slYTicks,'\u221A|Standardized residuals|',38,f1),
    axis(3,'y',stdYTicks,'Standardized Residuals',44,f1)
  ],
  series
};
const chart = echarts.init(document.getElementById('c'), null, {renderer:'canvas'});
chart.setOption(option);
</script></body></html>
